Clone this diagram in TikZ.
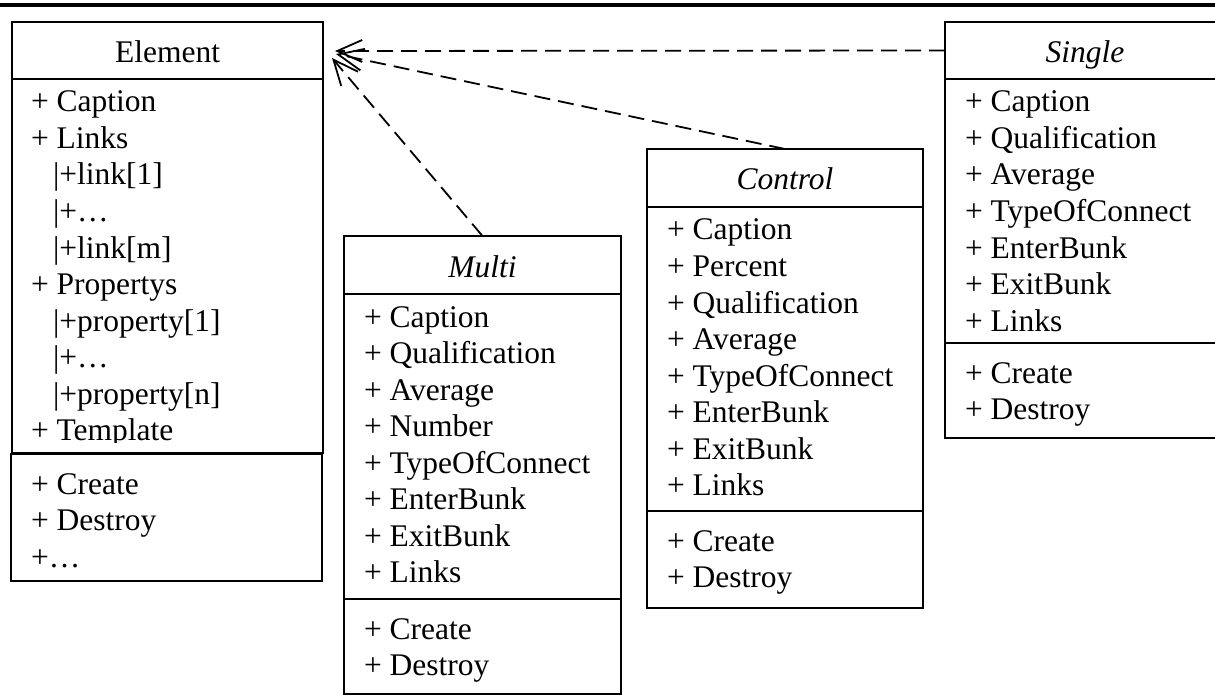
\documentclass[tikz,border=0pt]{standalone}
\usepackage{fontspec}
\setmainfont{Liberation Serif}
\usetikzlibrary{arrows.meta}
\begin{document}
\begin{tikzpicture}[x=1pt,y=-1pt,
  every node/.style={inner sep=0pt, outer sep=0pt},
  umlbox/.style={draw, line width=1.8pt, anchor=north west},
  item/.style={anchor=base west, font=\fontsize{31.5}{36.5}\selectfont},
  ttl/.style={anchor=base, font=\fontsize{31.5}{36.5}\selectfont\itshape},
  ttlup/.style={anchor=base, font=\fontsize{31.5}{36.5}\selectfont},
  dep/.style={line width=1.8pt, dash pattern=on 16pt off 8pt,
    -{Straight Barb[length=25pt,width=22pt,line width=1.8pt]}}
]
\useasboundingbox (0,0) rectangle (1215,695);
\clip (0,0) rectangle (1215,695);
% top rule
\coordinate (ruleL) at (0,5);
\coordinate (ruleR) at (1215,5);
\draw[line width=3.6pt] (ruleL) -- (ruleR);

% ---------- Element ----------
\node[umlbox, minimum width=311pt, minimum height=57pt] (elT) at (12,22) {};
\node[umlbox, minimum width=311pt, minimum height=374pt] (elA) at (12,79) {};
\node[umlbox, minimum width=311pt, minimum height=127pt] (elM) at (11,454) {};
\node[ttlup] (elName) at (167.5,63) {Element};
\node[item] (ea0) at (31,112) {+ Caption};
\node[item] (ea1) at (31,148.5) {+ Links};
\node[item] (ea2) at (53,185) {|+link[1]};
\node[item] (ea3) at (53,221.5) {|+…};
\node[item] (ea4) at (53,258) {|+link[m]};
\node[item] (ea5) at (31,294.5) {+ Propertys};
\node[item] (ea6) at (53,331) {|+property[1]};
\node[item] (ea7) at (53,367.5) {|+…};
\node[item] (ea8) at (53,404) {|+property[n]};
\begin{scope}
\clip (12,79) rectangle (323,442);
\node[item] (ea9) at (31,440.5) {+ Template};
\end{scope}
\node[item] (em0) at (31,494) {+ Create};
\node[item] (em1) at (31,530.5) {+ Destroy};
\node[item] (em2) at (31,567) {+…};

% ---------- Multi ----------
\node[umlbox, minimum width=277pt, minimum height=58pt] (muT) at (344,236) {};
\node[umlbox, minimum width=277pt, minimum height=305pt] (muA) at (344,294) {};
\node[umlbox, minimum width=277pt, minimum height=95pt] (muM) at (344,599) {};
\node[ttl] (muName) at (482.5,277) {Multi};
\foreach \t [count=\i from 0] in {Caption,Qualification,Average,Number,TypeOfConnect,EnterBunk,ExitBunk,Links}
  \node[item] (mua\i) at (364,327+36.5*\i) {+ \t};
\foreach \t [count=\i from 0] in {Create,Destroy}
  \node[item] (mum\i) at (364,639+36.5*\i) {+ \t};

% ---------- Control ----------
\node[umlbox, minimum width=276pt, minimum height=58pt] (coT) at (647,149) {};
\node[umlbox, minimum width=276pt, minimum height=304pt] (coA) at (647,207) {};
\node[umlbox, minimum width=276pt, minimum height=97pt] (coM) at (647,511) {};
\node[ttl] (coName) at (785,190) {Control};
\foreach \t [count=\i from 0] in {Caption,Percent,Qualification,Average,TypeOfConnect,EnterBunk,ExitBunk,Links}
  \node[item] (coa\i) at (667,240+36.5*\i) {+ \t};
\foreach \t [count=\i from 0] in {Create,Destroy}
  \node[item] (com\i) at (667,551+36.5*\i) {+ \t};

% ---------- Single ----------
\node[umlbox, minimum width=290pt, minimum height=57pt] (siT) at (945,22) {};
\node[umlbox, minimum width=290pt, minimum height=264pt] (siA) at (945,79) {};
\node[umlbox, minimum width=290pt, minimum height=95pt] (siM) at (945,343) {};
\node[ttl] (siName) at (1085,63) {Single};
\foreach \t [count=\i from 0] in {Caption,Qualification,Average,TypeOfConnect,EnterBunk,ExitBunk,Links}
  \node[item] (sia\i) at (965,112+36.5*\i) {+ \t};
\foreach \t [count=\i from 0] in {Create,Destroy}
  \node[item] (sim\i) at (965,383+36.5*\i) {+ \t};

% ---------- dependencies ----------
\coordinate (tipS) at (335,51);
\coordinate (tipC) at (336,54);
\coordinate (tipM) at (332,58);
\coordinate (siEnd) at (945,50.5);
\draw[dep] (siEnd) -- (tipS);
\draw[dep] (coT.north) -- (tipC);
\draw[dep] (muT.north) -- (tipM);
\end{tikzpicture}
\end{document}
